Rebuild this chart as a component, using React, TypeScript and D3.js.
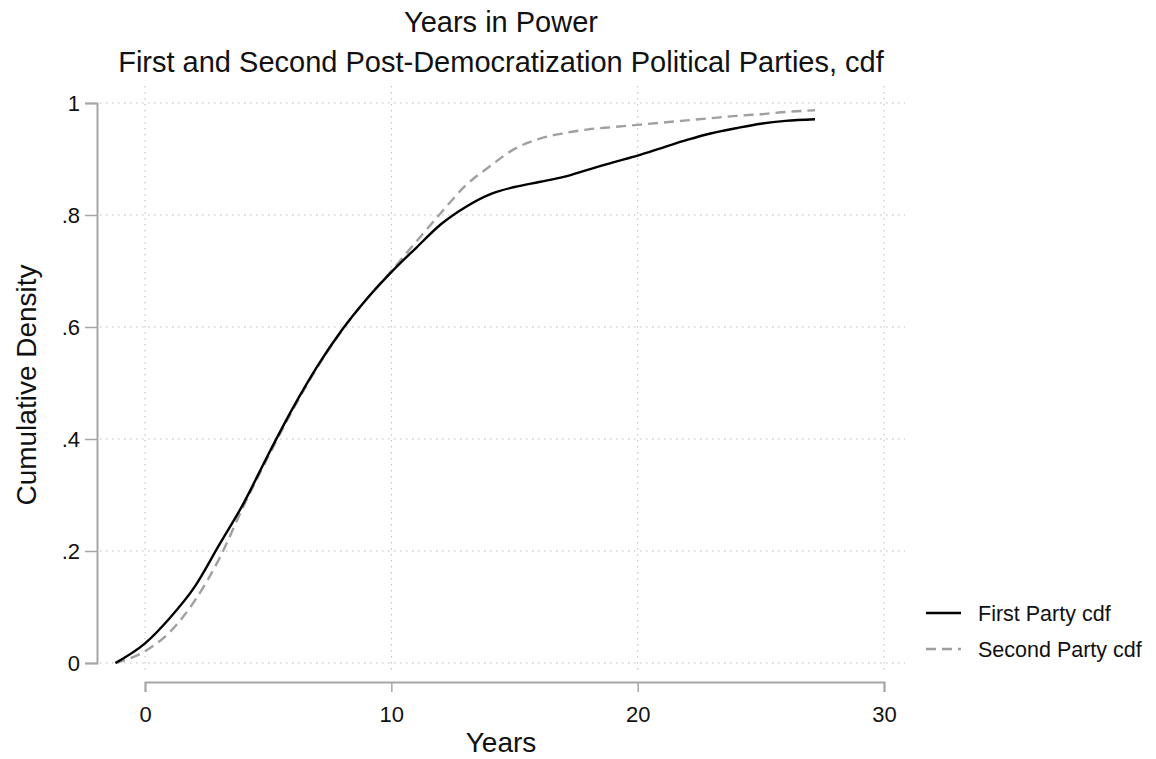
import * as d3 from "d3";
import { useEffect, useRef } from "react";

// years since democratization
const firstYears = [-1.2, 0, 1, 2, 3, 4, 5, 6, 7, 8, 9, 10, 11, 12, 13, 14, 15, 16, 17, 18, 19, 20, 21, 22, 23, 24, 25, 26, 27.2];
const firstCdf = [0, 0.035, 0.08, 0.135, 0.21, 0.285, 0.372, 0.455, 0.53, 0.595, 0.65, 0.698, 0.741, 0.783, 0.814, 0.837, 0.85, 0.859, 0.868, 0.881, 0.894, 0.906, 0.92, 0.934, 0.946, 0.955, 0.963, 0.968, 0.971];

const secondYears = [-1.2, 0, 1, 2, 3, 4, 5, 6, 7, 8, 9, 10, 11, 12, 13, 14, 15, 16, 17, 18, 19, 20, 21, 22, 23, 24, 25, 26, 27.2];
const secondCdf = [0, 0.021, 0.055, 0.11, 0.185, 0.28, 0.368, 0.452, 0.528, 0.594, 0.65, 0.7, 0.752, 0.803, 0.852, 0.887, 0.918, 0.936, 0.946, 0.953, 0.957, 0.961, 0.965, 0.969, 0.973, 0.977, 0.98, 0.984, 0.987];

const xTicks = [0, 10, 20, 30];
const yTicks = [0, 0.2, 0.4, 0.6, 0.8, 1];
const yTickLabels = ["0", ".2", ".4", ".6", ".8", "1"];

const seriesNames = ["First Party cdf", "Second Party cdf"];

const width = 1156;
const height = 759;
const font = "'Liberation Sans', Arial, sans-serif";
const axisColor = "#a6a6a6";

export default function App() {
  const xAxisRef = useRef<SVGGElement>(null);
  const yAxisRef = useRef<SVGGElement>(null);

  const x = d3.scaleLinear().domain([0, 30]).range([145, 884]);
  const y = d3.scaleLinear().domain([0, 1]).range([663, 103]);

  const plotLeft = 100;
  const plotRight = 905;
  const plotTop = 86;
  const plotBottom = 670;
  const xAxisY = 682;
  const yAxisX = 97;

  const line = d3
    .line<[number, number]>()
    .x((d) => x(d[0]))
    .y((d) => y(d[1]))
    .curve(d3.curveMonotoneX);

  const first = firstYears.map((v, i) => [v, firstCdf[i]] as [number, number]);
  const second = secondYears.map((v, i) => [v, secondCdf[i]] as [number, number]);

  useEffect(() => {
    if (xAxisRef.current) {
      const g = d3.select(xAxisRef.current);
      g.call(
        d3.axisBottom(x).tickValues(xTicks).tickSize(10).tickPadding(14).tickFormat(d3.format("d"))
      );
      g.attr("font-size", 22).attr("font-family", font);
      g.select(".domain").attr("stroke", axisColor).attr("stroke-width", 2);
      g.selectAll(".tick line").attr("stroke", axisColor).attr("stroke-width", 1.5);
      g.selectAll(".tick text").attr("fill", "#111");
    }
    if (yAxisRef.current) {
      const g = d3.select(yAxisRef.current);
      g.call(
        d3
          .axisLeft(y)
          .tickValues(yTicks)
          .tickSize(12)
          .tickPadding(5)
          .tickFormat((_, i) => yTickLabels[i])
      );
      g.attr("font-size", 22).attr("font-family", font);
      g.select(".domain").attr("stroke", axisColor).attr("stroke-width", 2);
      g.selectAll(".tick line").attr("stroke", axisColor).attr("stroke-width", 1.5);
      g.selectAll(".tick text").attr("fill", "#111");
    }
  }, []);

  return (
    <svg
      width={width}
      height={height}
      style={{ position: "absolute", left: 0, top: 0, background: "#fff" }}
    >
      <rect width={width} height={height} fill="#fff" />
      <text x={501} y={32} textAnchor="middle" fontFamily={font} fontSize={29} fill="#111">
        Years in Power
      </text>
      <text x={501} y={72} textAnchor="middle" fontFamily={font} fontSize={29} fill="#111">
        First and Second Post-Democratization Political Parties, cdf
      </text>

      {/* grid */}
      <g stroke="#bdbdbd" strokeWidth={1} strokeDasharray="1.5 4.5">
        {yTicks.map((t) => (
          <line key={`gy-${t}`} x1={plotLeft} x2={plotRight} y1={y(t)} y2={y(t)} />
        ))}
        {xTicks.map((t) => (
          <line key={`gx-${t}`} x1={x(t)} x2={x(t)} y1={plotTop} y2={plotBottom} />
        ))}
      </g>

      <g ref={xAxisRef} transform={`translate(0, ${xAxisY})`} />
      <g ref={yAxisRef} transform={`translate(${yAxisX}, 0)`} />

      <path d={line(second) || ""} fill="none" stroke="#a0a0a0" strokeWidth={2.4} strokeDasharray="10 6" />
      <path d={line(first) || ""} fill="none" stroke="#000" strokeWidth={2.4} />

      <text
        transform={`translate(36, ${385}) rotate(-90)`}
        textAnchor="middle"
        fontFamily={font}
        fontSize={28}
        fill="#111"
      >
        Cumulative Density
      </text>
      <text x={501} y={752} textAnchor="middle" fontFamily={font} fontSize={28} fill="#111">
        Years
      </text>

      {/* legend */}
      {seriesNames.map((name, i) => (
        <g key={name} transform={`translate(926, ${613 + i * 36})`}>
          <line
            x1={0}
            x2={35}
            y1={0}
            y2={0}
            stroke={i === 0 ? "#000" : "#a0a0a0"}
            strokeWidth={2.4}
            strokeDasharray={i === 0 ? undefined : "10 6"}
          />
          <text x={52} y={8} fontFamily={font} fontSize={21.5} fill="#111">
            {name}
          </text>
        </g>
      ))}
    </svg>
  );
}
